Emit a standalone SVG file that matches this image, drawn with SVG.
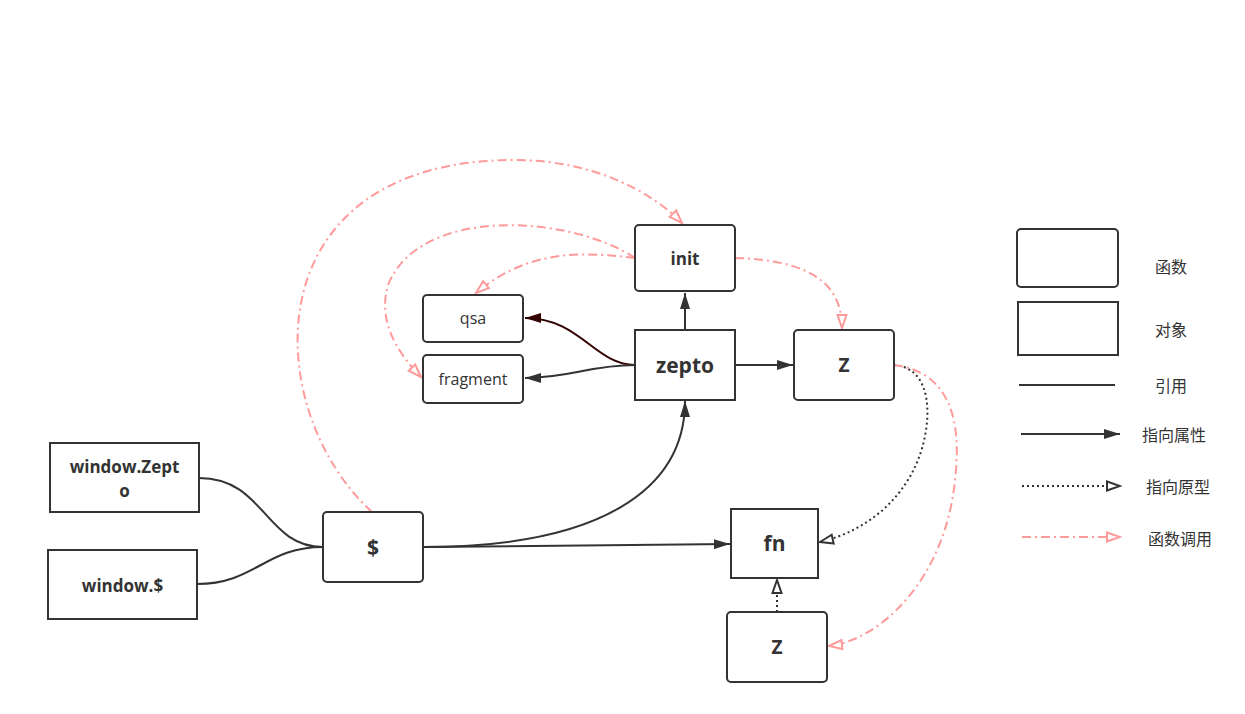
<svg xmlns="http://www.w3.org/2000/svg" width="1245" height="714" viewBox="0 0 1245 714">
<style>
.box{fill:#fff;stroke:#333;stroke-width:2}
.t{font-family:"Open Sans","Noto Sans","Liberation Sans",sans-serif;fill:#333;text-anchor:middle;dominant-baseline:central}
.b{font-weight:bold}
.cn{font-family:"Noto Sans CJK SC","Noto Sans",sans-serif;fill:#333;font-size:16px;text-anchor:middle;dominant-baseline:central}
.ref{fill:none;stroke:#333;stroke-width:2}
.proto{fill:none;stroke:#333;stroke-width:2;stroke-dasharray:2 3}
.call{fill:none;stroke:#ff9a9a;stroke-width:2;stroke-dasharray:9 4 2 4}
</style>
<defs>
<marker id="af" viewBox="0 0 16 10" refX="16" refY="5" markerWidth="16" markerHeight="10" markerUnits="userSpaceOnUse" orient="auto"><path d="M0,0 L16,5 L0,10 z" fill="#333"/></marker>
<marker id="afr" viewBox="0 0 16 10" refX="16" refY="5" markerWidth="16" markerHeight="10" markerUnits="userSpaceOnUse" orient="auto"><path d="M0,0 L16,5 L0,10 z" fill="#330000"/></marker>
<marker id="ap" viewBox="0 0 17 13" refX="15" refY="6.5" markerWidth="17" markerHeight="13" markerUnits="userSpaceOnUse" orient="auto"><path d="M2,2 L15,6.5 L2,11 z" fill="#fff" stroke="#333" stroke-width="2"/></marker>
<marker id="ac" viewBox="0 0 17 13" refX="15" refY="6.5" markerWidth="17" markerHeight="13" markerUnits="userSpaceOnUse" orient="auto"><path d="M2,2 L15,6.5 L2,11 z" fill="#fff" stroke="#ff9a9a" stroke-width="2"/></marker>
</defs>

<g id="connectors">
<path class="ref" d="M685,330 L685,293" marker-end="url(#af)"/>
<path class="ref" d="M735,365 L793,365" marker-end="url(#af)"/>
<path fill="none" stroke="#330000" stroke-width="2" d="M635,365 C595,365 580,318 525,318" marker-end="url(#afr)"/>
<path class="ref" d="M635,365 C590,365 570,378 525,378" marker-end="url(#af)"/>
<path class="ref" d="M423,547 C600,547 685,490 685,401" marker-end="url(#af)"/>
<path class="ref" d="M423,547 L730,544" marker-end="url(#af)"/>
<path class="ref" d="M199,478 C265,478 265,547 323,547"/>
<path class="ref" d="M197,584 C255,584 265,547 323,547"/>
<path class="proto" d="M894,365 C935,368 932,425 918,460 C900,505 860,533 820,542" marker-end="url(#ap)"/>
<path class="proto" d="M777,612 L777,580" marker-end="url(#ap)"/>
<path class="call" d="M372,512 C260,410 250,160 515,160 C590,160 650,190 682,223" marker-end="url(#ac)"/>
<path class="call" d="M635,258 C570,215 420,205 388,285 C378,320 395,350 421,377" marker-end="url(#ac)"/>
<path class="call" d="M635,258 C585,252 530,248 476,293" marker-end="url(#ac)"/>
<path class="call" d="M735,258 C805,260 842,280 842,328" marker-end="url(#ac)"/>
<path class="call" d="M894,365 C950,372 962,420 955,480 C945,580 880,640 829,646" marker-end="url(#ac)"/>
</g>

<g id="init"><rect class="box" x="635" y="225" width="100" height="66" rx="4"/><text class="t b" x="685" y="258" font-size="17">init</text></g>
<g id="qsa"><rect class="box" x="423" y="295" width="100" height="47" rx="4"/><text class="t" x="473" y="318" font-size="16">qsa</text></g>
<g id="fragment"><rect class="box" x="423" y="355" width="100" height="48" rx="4"/><text class="t" x="473" y="379" font-size="16">fragment</text></g>
<g id="zepto"><rect class="box" x="635" y="330" width="100" height="70"/><text class="t b" x="685" y="365" font-size="21">zepto</text></g>
<g id="Z1"><rect class="box" x="794" y="330" width="100" height="70" rx="4"/><text class="t b" x="844" y="365" font-size="19">Z</text></g>
<g id="windowZepto"><rect class="box" x="50" y="443" width="149" height="69"/><text class="t b" x="124.5" y="466" font-size="17">window.Zept</text><text class="t b" x="124.5" y="490" font-size="17">o</text></g>
<g id="windowDollar"><rect class="box" x="48" y="550" width="149" height="69"/><text class="t b" x="122.5" y="585" font-size="17">window.$</text></g>
<g id="dollar"><rect class="box" x="323" y="512" width="100" height="70" rx="4"/><text class="t b" x="373" y="547" font-size="21">$</text></g>
<g id="fn"><rect class="box" x="731" y="509" width="87" height="69"/><text class="t b" x="774.5" y="543" font-size="21">fn</text></g>
<g id="Z2"><rect class="box" x="727" y="612" width="100" height="70" rx="4"/><text class="t b" x="777" y="647" font-size="19">Z</text></g>

<g id="legend">
<rect class="box" x="1017" y="229" width="101" height="58" rx="4"/>
<text class="cn" x="1171" y="266">函数</text>
<rect class="box" x="1018" y="302" width="100" height="53"/>
<text class="cn" x="1171" y="329">对象</text>
<path class="ref" d="M1019,385 L1115,385"/>
<text class="cn" x="1171" y="385">引用</text>
<path class="ref" d="M1021,434 L1120,434" marker-end="url(#af)"/>
<text class="cn" x="1174" y="434">指向属性</text>
<path class="proto" d="M1022,486 L1120,486" marker-end="url(#ap)"/>
<text class="cn" x="1178" y="486">指向原型</text>
<path class="call" d="M1022,537 L1120,537" marker-end="url(#ac)"/>
<text class="cn" x="1180" y="538">函数调用</text>
</g>
</svg>
